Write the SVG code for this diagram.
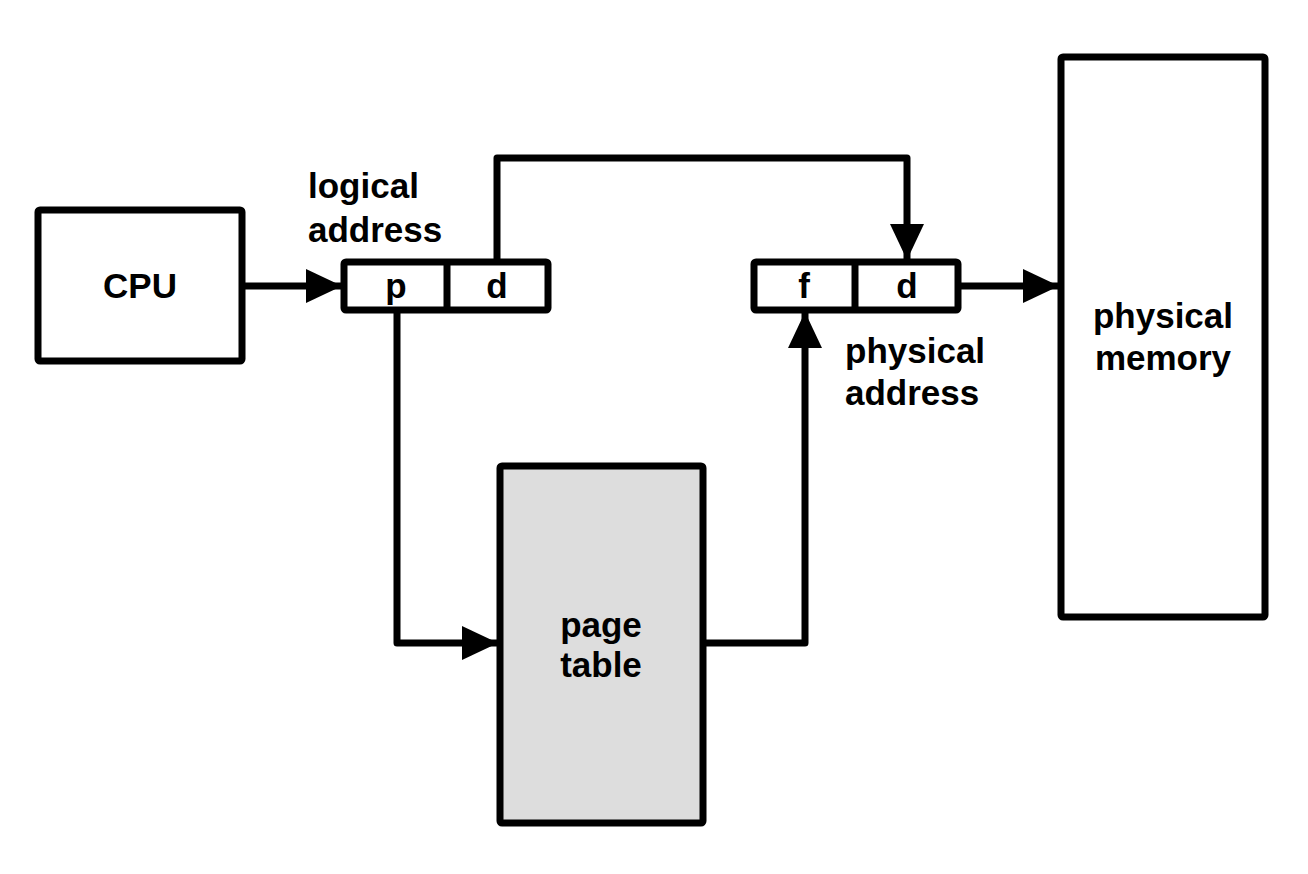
<svg xmlns="http://www.w3.org/2000/svg" width="1308" height="874" viewBox="0 0 1308 874">
<defs>
<style>
.box{fill:#fff;stroke:#000;stroke-width:7;stroke-linejoin:round}
.gray{fill:#dddddd}
.ln{fill:none;stroke:#000;stroke-width:7;stroke-linejoin:round}
text{font-family:"Liberation Sans",Arial,sans-serif;font-weight:bold;font-size:35px;fill:#000}
.c{text-anchor:middle}
</style>
<marker id="ah" markerUnits="userSpaceOnUse" markerWidth="36" markerHeight="34" refX="36" refY="17" orient="auto">
<path d="M0,0 L36,17 L0,34 Z" fill="#000"/>
</marker>
</defs>
<rect width="1308" height="874" fill="#fff"/>
<g id="cpu">
<rect class="box" x="38" y="210" width="204" height="151" rx="2"/>
<text class="c" x="140" y="298">CPU</text>
</g>
<g id="logical-address">
<rect class="box" x="344" y="262" width="204" height="48" rx="2"/>
<line class="ln" x1="447" y1="262" x2="447" y2="310"/>
<text class="c" x="396" y="298">p</text>
<text class="c" x="497" y="298">d</text>
<text x="308" y="198">logical</text>
<text x="308" y="242">address</text>
</g>
<g id="physical-address">
<rect class="box" x="754" y="262" width="204" height="48" rx="2"/>
<line class="ln" x1="855" y1="262" x2="855" y2="310"/>
<text class="c" x="804" y="298">f</text>
<text class="c" x="907" y="298">d</text>
<text x="845" y="363">physical</text>
<text x="845" y="405">address</text>
</g>
<g id="page-table">
<rect class="box gray" x="500" y="466" width="203" height="357" rx="2"/>
<text class="c" x="601" y="637">page</text>
<text class="c" x="601" y="677">table</text>
</g>
<g id="physical-memory">
<rect class="box" x="1061" y="57" width="204" height="560" rx="2"/>
<text class="c" x="1163" y="328">physical</text>
<text class="c" x="1163" y="370">memory</text>
</g>
<g id="connectors">
<path class="ln" d="M242,286 H342" marker-end="url(#ah)"/>
<path class="ln" d="M497,262 V158 H907 V260" marker-end="url(#ah)"/>
<path class="ln" d="M958,286 H1059" marker-end="url(#ah)"/>
<path class="ln" d="M397,310 V643 H498" marker-end="url(#ah)"/>
<path class="ln" d="M703,643 H805 V312" marker-end="url(#ah)"/>
</g>
</svg>
